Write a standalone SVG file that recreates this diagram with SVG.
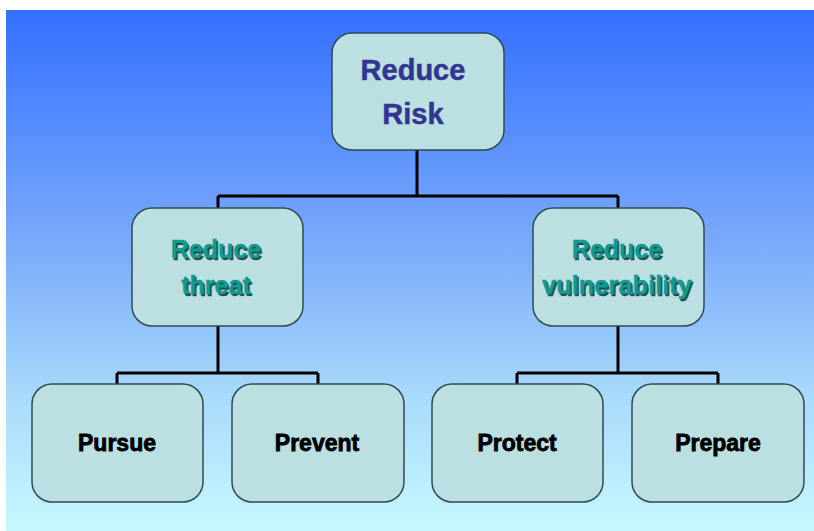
<svg xmlns="http://www.w3.org/2000/svg" width="814" height="531" viewBox="0 0 814 531">
  <defs>
    <linearGradient id="bg" x1="0" y1="0" x2="0" y2="1">
      <stop offset="0" stop-color="#3370FF"/>
      <stop offset="0.45" stop-color="#7AAAFA"/>
      <stop offset="0.75" stop-color="#A9DBFB"/>
      <stop offset="1" stop-color="#C6F8FF"/>
    </linearGradient>
  </defs>
  <style>
    .box { fill: #BCE0E1; stroke: #2F4A55; stroke-width: 1.5; }
    .conn { fill: none; stroke: #000; stroke-width: 3; }
    .t1 { font-family: "Liberation Sans", Arial, sans-serif; font-weight: bold; font-size: 29px; fill: #333592; stroke: #333592; stroke-width: 0.5; text-anchor: middle; }
    .t2 { font-family: "Liberation Sans", Arial, sans-serif; font-weight: bold; font-size: 25px; fill: #129A90; stroke: #129A90; stroke-width: 0.4; text-anchor: middle; }
    .t2s { font-family: "Liberation Sans", Arial, sans-serif; font-weight: bold; font-size: 25px; fill: #1E4E50; stroke: #1E4E50; stroke-width: 0.4; text-anchor: middle; }
    .t3 { font-family: "Liberation Sans", Arial, sans-serif; font-weight: bold; font-size: 23px; fill: #000; stroke: #000; stroke-width: 0.8; text-anchor: middle; }
  </style>
  <rect x="0" y="0" width="814" height="531" fill="#FFFFFF"/>
  <rect x="6" y="10" width="808" height="521" fill="url(#bg)"/>

  <g id="connectors">
    <path class="conn" d="M417 150 V196 M218 196 H618 M218 196 V208 M618 196 V208"/>
    <path class="conn" d="M218 326 V373 M117 373 H318 M117 373 V384 M318 373 V384"/>
    <path class="conn" d="M618 326 V373 M517 373 H718 M517 373 V384 M718 373 V384"/>
  </g>

  <g id="reduce-risk">
    <rect class="box" x="332" y="33" width="172" height="117" rx="20"/>
    <text class="t1" x="413" y="80">Reduce</text>
    <text class="t1" x="413" y="124">Risk</text>
  </g>

  <g id="reduce-threat">
    <rect class="box" x="132" y="208" width="171" height="118" rx="20"/>
    <text class="t2s" x="217.5" y="259.5">Reduce</text>
    <text class="t2" x="216" y="258">Reduce</text>
    <text class="t2s" x="217.5" y="295.5">threat</text>
    <text class="t2" x="216" y="294">threat</text>
  </g>

  <g id="reduce-vulnerability">
    <rect class="box" x="533" y="208" width="171" height="118" rx="20"/>
    <text class="t2s" x="618.5" y="259.5">Reduce</text>
    <text class="t2" x="617" y="258">Reduce</text>
    <text class="t2s" x="618.5" y="295.5" textLength="150" lengthAdjust="spacingAndGlyphs">vulnerability</text>
    <text class="t2" x="617" y="294" textLength="150" lengthAdjust="spacingAndGlyphs">vulnerability</text>
  </g>

  <g id="pursue">
    <rect class="box" x="32" y="384" width="171" height="118" rx="20"/>
    <text class="t3" x="117" y="451">Pursue</text>
  </g>

  <g id="prevent">
    <rect class="box" x="232" y="384" width="172" height="118" rx="20"/>
    <text class="t3" x="317" y="451">Prevent</text>
  </g>

  <g id="protect">
    <rect class="box" x="432" y="384" width="171" height="118" rx="20"/>
    <text class="t3" x="517" y="451">Protect</text>
  </g>

  <g id="prepare">
    <rect class="box" x="632" y="384" width="172" height="118" rx="20"/>
    <text class="t3" x="718" y="451">Prepare</text>
  </g>
</svg>
